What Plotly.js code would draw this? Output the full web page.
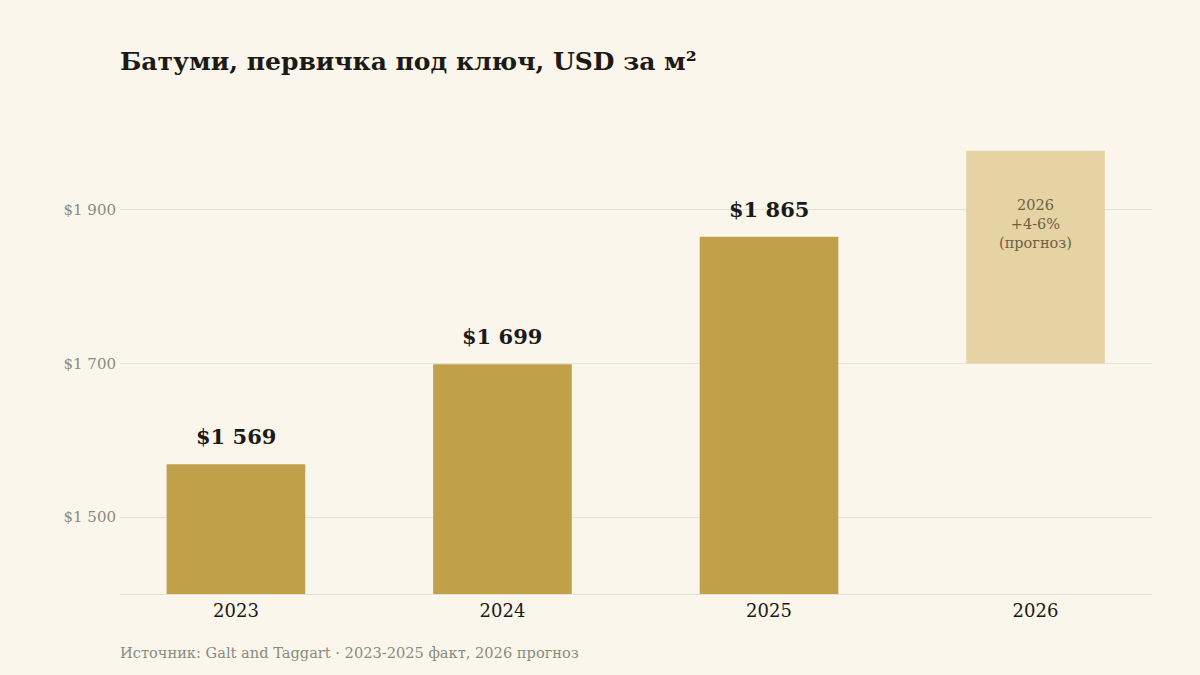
<!DOCTYPE html>
<html>
<head>
<meta charset="utf-8">
<script src="https://cdn.plot.ly/plotly-3.0.1.min.js"></script>
<style>html,body{margin:0;padding:0;background:#FAF6EC;}#chart{width:1200px;height:675px;}</style>
</head>
<body>
<div id="chart"></div>
<script>
const years = ['2023', '2024', '2025'];
const prices = [1569, 1699, 1865];
const forecastYear = ['2026'];
const forecastBase = [1700];
const forecastTop = [1977];
const forecastLabel = '2026<br>+4-6%<br>(прогноз)';
const tickValues = [1500, 1700, 1900];

const serif = 'DejaVu Serif, serif';
const fmt = v => '$' + String(v).replace(/\B(?=(\d{3})+(?!\d))/g, ' ');

const actual = {
  type: 'bar', x: years, y: prices, width: 0.52,
  marker: {color: '#C1A04A'}, hoverinfo: 'x+y', showlegend: false
};
const forecast = {
  type: 'bar', x: forecastYear,
  y: forecastTop.map((t, i) => t - forecastBase[i]),
  base: forecastBase, width: 0.52,
  marker: {color: '#E5D3A3'}, hoverinfo: 'x', showlegend: false
};

const annotations = years.map((yr, i) => ({
  x: i, y: prices[i], xref: 'x', yref: 'y',
  text: '<b>' + fmt(prices[i]) + '</b>',
  showarrow: false, yanchor: 'bottom', yshift: 13,
  font: {family: serif, size: 21, color: '#1C1A17'}
}));
annotations.push({
  x: years.length, y: 1881, xref: 'x', yref: 'y',
  text: forecastLabel, showarrow: false,
  font: {family: serif, size: 14.5, color: '#6B5F45'}
});
annotations.push({
  x: 0, xref: 'paper', xanchor: 'left', xshift: -2, y: -0.126, yref: 'paper', yanchor: 'middle',
  text: 'Источник: Galt and Taggart · 2023-2025 факт, 2026 прогноз',
  showarrow: false, font: {family: serif, size: 14.6, color: '#8C8A80'}
});

const layout = {
  width: 1200, height: 675,
  paper_bgcolor: '#FAF6EC', plot_bgcolor: '#FAF6EC',
  margin: {l: 120, r: 48, t: 133, b: 81},
  title: {text: '<b>Батуми, первичка под ключ, USD за м²</b>', x: 0, xanchor: 'left', xref: 'paper',
    y: 0.91, yanchor: 'middle',
    font: {family: serif, size: 25, color: '#1C1A17'}},
  xaxis: {type: 'category', categoryorder: 'array', categoryarray: years.concat(forecastYear),
    range: [-0.435, 3.437],
    showline: true, linecolor: '#E6E2D8', linewidth: 1, showgrid: false, ticks: '',
    tickfont: {family: serif, size: 18, color: '#1C1A17'}},
  yaxis: {range: [1400, 2000], tickmode: 'array', tickvals: tickValues, ticktext: tickValues.map(fmt),
    showgrid: true, gridcolor: '#E6E2D8', zeroline: false, ticks: '', ticklabelstandoff: 3,
    tickfont: {family: serif, size: 15, color: '#8C8A80'}},
  annotations: annotations
};

Plotly.newPlot('chart', [actual, forecast], layout, {displayModeBar: false, staticPlot: true});
</script>
</body>
</html>
